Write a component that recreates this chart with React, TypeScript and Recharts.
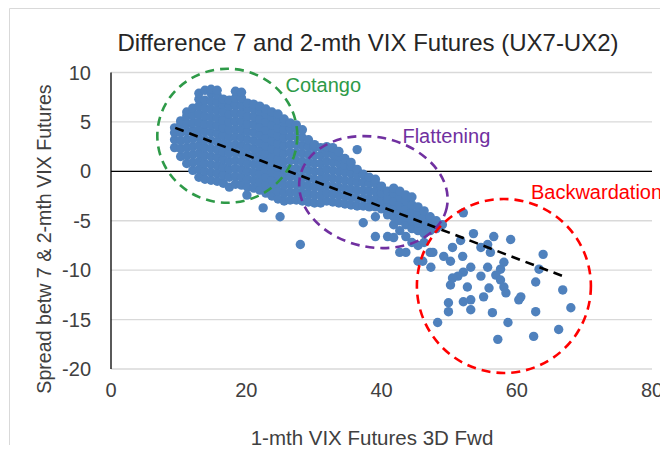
import React from 'react';
import { ScatterChart, Scatter, XAxis, YAxis, CartesianGrid, ReferenceLine, ReferenceDot } from 'recharts';

const title = 'Difference 7 and 2-mth VIX Futures (UX7-UX2)';
const xTitle = '1-mth VIX Futures 3D Fwd';
const yTitle = 'Spread betw 7 & 2-mth VIX Futures';
const xTicks = [0, 20, 40, 60, 80];
const yTicks = [-20, -15, -10, -5, 0, 5, 10];

// columns of points: [x, [y values]]
const contangoCols: [number, number[]][] = [
  [9.4, [2.4, 3.2, 3.9, 4.4]],
  [10.3, [1.5, 2.3, 3.1, 3.9, 4.7, 5.1]],
  [11.2, [0.8, 1.6, 2.4, 3.2, 4.0, 4.8, 5.6, 6.0]],
  [12.1, [0.1, 0.9, 1.7, 2.5, 3.3, 4.1, 4.9, 5.7, 6.4]],
  [13.0, [-0.6, 0.2, 1.0, 1.8, 2.6, 3.4, 4.2, 5.0, 5.8, 6.6, 7.3, 7.9]],
  [13.9, [-0.8, 0.0, 0.8, 1.6, 2.4, 3.2, 4.0, 4.8, 5.6, 6.4, 7.2, 8.2]],
  [14.8, [-0.9, -0.1, 0.7, 1.5, 2.3, 3.1, 3.9, 4.7, 5.5, 6.3, 7.1, 7.9, 8.3]],
  [15.7, [-1.0, -0.2, 0.6, 1.4, 2.2, 3.0, 3.8, 4.6, 5.4, 6.2, 7.0, 7.7, 8.2]],
  [16.6, [-1.2, -0.4, 0.4, 1.2, 2.0, 2.8, 3.6, 4.4, 5.2, 6.0, 6.8, 7.3]],
  [17.5, [-1.6, -0.6, 0.2, 1.0, 1.8, 2.6, 3.4, 4.2, 5.0, 5.8, 6.6, 7.2]],
  [18.4, [-1.3, -0.5, 0.3, 1.1, 1.9, 2.7, 3.5, 4.3, 5.1, 5.9, 6.7, 7.4, 8.1]],
  [19.3, [-1.4, -0.6, 0.2, 1.0, 1.8, 2.6, 3.4, 4.2, 5.0, 5.8, 6.6, 7.4, 8.0]],
  [20.2, [-1.6, -0.8, 0.0, 0.8, 1.6, 2.4, 3.2, 4.0, 4.8, 5.6, 6.4, 6.9]],
  [21.1, [-1.7, -0.9, -0.1, 0.7, 1.5, 2.3, 3.1, 3.9, 4.7, 5.5, 6.3, 6.8]],
  [22.0, [-1.9, -1.1, -0.3, 0.5, 1.3, 2.1, 2.9, 3.7, 4.5, 5.3, 6.1, 6.6]],
  [22.9, [-2.2, -1.4, -0.6, 0.2, 1.0, 1.8, 2.6, 3.4, 4.2, 5.0, 5.8, 6.3]],
  [23.8, [-2.5, -1.7, -0.9, -0.1, 0.7, 1.5, 2.3, 3.1, 3.9, 4.7, 5.5, 6.0]],
  [24.7, [-2.8, -2.0, -1.2, -0.4, 0.4, 1.2, 2.0, 2.8, 3.6, 4.4, 5.2, 5.8]],
  [25.6, [-3.0, -2.2, -1.4, -0.6, 0.2, 1.0, 1.8, 2.6, 3.4, 4.2, 5.0, 5.3]],
  [26.5, [-2.9, -2.1, -1.3, -0.5, 0.3, 1.1, 1.9, 2.7, 3.5, 4.3, 4.9]],
  [27.4, [-2.9, -2.1, -1.3, -0.5, 0.3, 1.1, 1.9, 2.7, 3.5, 4.3, 4.7]],
  [28.3, [-3.0, -2.2, -1.4, -0.6, 0.2, 1.0, 1.8, 2.6, 3.4, 4.2]],
];
const contangoOutliers: [number, number][] = [
  [20.1, -2.4], [22.5, -3.7], [25.0, -4.6], [28.0, -7.4],
];

const flatteningCols: [number, number[]][] = [
  [29.2, [-3.1, -2.3, -1.5, -0.7, 0.1, 0.9, 1.7, 2.5, 3.2]],
  [30.1, [-3.2, -2.4, -1.6, -0.8, 0.0, 0.8, 1.6, 2.4, 2.7]],
  [31.0, [-3.2, -2.4, -1.6, -0.8, 0.0, 0.8, 1.6, 2.4]],
  [31.9, [-3.0, -2.2, -1.4, -0.6, 0.2, 1.0, 1.8, 2.5]],
  [32.8, [-3.1, -2.3, -1.5, -0.7, 0.1, 0.9, 1.7, 2.4]],
  [33.7, [-3.2, -2.4, -1.6, -0.8, 0.0, 0.8, 1.5, 2.0]],
  [34.6, [-3.3, -2.5, -1.7, -0.9, -0.1, 0.6, 1.3]],
  [35.5, [-3.4, -2.6, -1.8, -1.0, -0.2, 0.5, 0.9]],
  [36.4, [-3.5, -2.7, -1.9, -1.1, -0.4, 0.2, 2.2]],
  [37.3, [-5.2, -3.5, -2.7, -1.9, -1.1, -0.3]],
  [38.2, [-3.6, -2.8, -2.0, -1.2, -0.6]],
  [39.1, [-6.6, -4.6, -3.6, -2.8, -2.0, -1.2, -0.8]],
  [40.0, [-3.8, -3.0, -2.2, -1.5]],
  [40.9, [-6.6, -4.4, -3.6, -2.8, -2.0]],
  [41.8, [-6.7, -5.4, -4.6, -3.8, -3.0, -2.2, -1.7]],
  [42.7, [-8.2, -6.0, -5.0, -4.2, -3.4, -2.6, -2.0]],
  [43.6, [-8.2, -6.6, -5.4, -4.6, -3.8, -3.0, -2.4]],
  [44.5, [-7.2, -5.8, -5.0, -4.2, -3.4, -2.6]],
  [45.4, [-9.1, -7.5, -6.0, -5.2, -4.4, -3.6]],
  [46.3, [-7.2, -6.3, -5.5, -4.7, -4.0]],
  [47.2, [-8.2, -6.0, -5.2, -4.6]],
  [48.1, [-5.8, -5.0]],
  [49.0, [-5.4]],
];

const backwardationPts: [number, number][] = [
  [52.1, -4.2], [53.6, -6.3], [51.7, -7.0], [50.5, -7.7], [47.6, -8.2], [49.2, -8.6],
  [50.2, -9.1], [52.0, -8.6], [47.3, -9.7], [46.1, -9.1], [56.6, -6.6], [54.7, -7.7],
  [55.7, -7.4], [56.1, -8.2], [59.1, -6.9], [58.1, -9.2], [57.6, -9.9], [55.7, -9.7],
  [54.7, -10.6], [53.2, -9.7], [52.1, -10.2], [51.3, -10.6], [50.5, -10.8], [50.2, -11.5],
  [56.9, -10.5], [57.6, -11.0], [58.1, -11.7], [58.4, -12.3], [55.9, -11.8], [55.1, -12.7],
  [52.7, -11.7], [53.2, -13.0], [52.1, -13.2], [49.9, -13.3], [49.9, -14.2], [53.2, -14.0],
  [56.4, -14.3], [60.6, -12.7], [60.3, -13.0], [62.8, -11.2], [63.3, -9.9], [63.9, -8.4],
  [66.8, -12.0], [68.0, -13.8], [62.8, -14.2], [48.3, -15.3], [58.7, -15.3], [57.2, -17.0],
  [62.5, -16.7], [66.2, -16.0],
];

const trendPts = [
  { x: 9.5, y: 4.4 },
  { x: 66.8, y: -10.6 },
];

const regionNames = ['Cotango', 'Flattening', 'Backwardation'];
const regionCenters = [
  { x: 17.2, y: 3.6 },
  { x: 38.8, y: -2.1 },
  { x: 58.1, y: -11.6 },
];
const regionLabelAnchors = [
  { x: 25.8, y: 8.7 },
  { x: 43.1, y: 3.6 },
  { x: 62.1, y: -2.1 },
];

const fromCols = (cols: [number, number[]][]) =>
  cols.flatMap(([x, ys]) => ys.map((y) => ({ x, y })));
const fromPairs = (pairs: [number, number][]) => pairs.map(([x, y]) => ({ x, y }));

const contangoData = [...fromCols(contangoCols), ...fromPairs(contangoOutliers)];
const flatteningData = fromCols(flatteningCols);
const backwardationData = fromPairs(backwardationPts);

const FONT = 'Liberation Sans, Arial, sans-serif';
const POINT = '#4f81bd';
const regionColors = ['#2e9a48', '#7030a0', '#ff0000'];
const regionRadii = [
  [70, 67, 0],
  [75, 55, 12],
  [87, 87, 0],
];

const Dot = (p: any) => <circle cx={p.cx} cy={p.cy} r={4.7} fill={POINT} />;
const NoDot = () => <g />;

export default function App() {
  const W = 660;
  const H = 437;
  return (
    <div style={{ position: 'relative', width: W, height: H }}>
      <ScatterChart
        width={W}
        height={H}
        margin={{ top: 64.5, right: 16, bottom: 36, left: 33 }}
      >
        <CartesianGrid vertical={false} stroke="#d9d9d9" strokeWidth={1.3} />
        <XAxis
          type="number"
          dataKey="x"
          domain={[0, 80]}
          ticks={xTicks}
          height={40}
          axisLine={false}
          tickLine={false}
          tickSize={0}
          tickMargin={14}
          tick={{ fill: '#404040', fontSize: 20, fontFamily: FONT }}
          interval={0}
        />
        <YAxis
          type="number"
          dataKey="y"
          domain={[-20, 10]}
          ticks={yTicks}
          width={70}
          axisLine={{ stroke: '#000', strokeWidth: 1.3 }}
          tickLine={false}
          tickSize={0}
          tickMargin={20}
          tick={{ fill: '#404040', fontSize: 20, fontFamily: FONT }}
          interval={0}
        />
        <ReferenceLine y={0} stroke="#000" strokeWidth={1.3} />
        <Scatter data={contangoData} shape={Dot} isAnimationActive={false} />
        <Scatter data={flatteningData} shape={Dot} isAnimationActive={false} />
        <Scatter data={backwardationData} shape={Dot} isAnimationActive={false} />
        <Scatter
          data={trendPts}
          shape={NoDot}
          line={{ stroke: '#000', strokeWidth: 2.6, strokeDasharray: '9 6' }}
          isAnimationActive={false}
        />
        {regionCenters.map((c, i) => (
          <ReferenceDot
            key={'e' + i}
            x={c.x}
            y={c.y}
            r={1}
            ifOverflow="visible"
            shape={(p: any) => (
              <ellipse
                cx={p.cx}
                cy={p.cy}
                rx={regionRadii[i][0]}
                ry={regionRadii[i][1]}
                transform={`rotate(${regionRadii[i][2]} ${p.cx} ${p.cy})`}
                fill="none"
                stroke={regionColors[i]}
                strokeWidth={2.6}
                strokeDasharray="9 6"
              />
            )}
          />
        ))}
        {regionLabelAnchors.map((c, i) => (
          <ReferenceDot
            key={'l' + i}
            x={c.x}
            y={c.y}
            r={1}
            ifOverflow="visible"
            shape={(p: any) => (
              <text
                x={p.cx}
                y={p.cy}
                fill={regionColors[i]}
                fontSize={20}
                fontFamily={FONT}
                textAnchor="start"
                dominantBaseline="central"
              >
                {regionNames[i]}
              </text>
            )}
          />
        ))}
      </ScatterChart>
      <svg
        width={W}
        height={H}
        style={{ position: 'absolute', left: 0, top: 0, pointerEvents: 'none', overflow: 'visible' }}
      >
        <path d={`M1.5 ${H} V0.5 H${W + 20}`} fill="none" stroke="#d9d9d9" strokeWidth={1} />
        <text x={360} y={34} fontSize={24} fontFamily={FONT} fill="#262626" textAnchor="middle" dominantBaseline="central">
          {title}
        </text>
        <text x={364} y={429} fontSize={20.5} fontFamily={FONT} fill="#404040" textAnchor="middle" dominantBaseline="central">
          {xTitle}
        </text>
        <text
          x={36}
          y={231}
          fontSize={19.6}
          fontFamily={FONT}
          fill="#404040"
          textAnchor="middle"
          dominantBaseline="central"
          transform="rotate(-90 36 231)"
        >
          {yTitle}
        </text>
      </svg>
    </div>
  );
}
